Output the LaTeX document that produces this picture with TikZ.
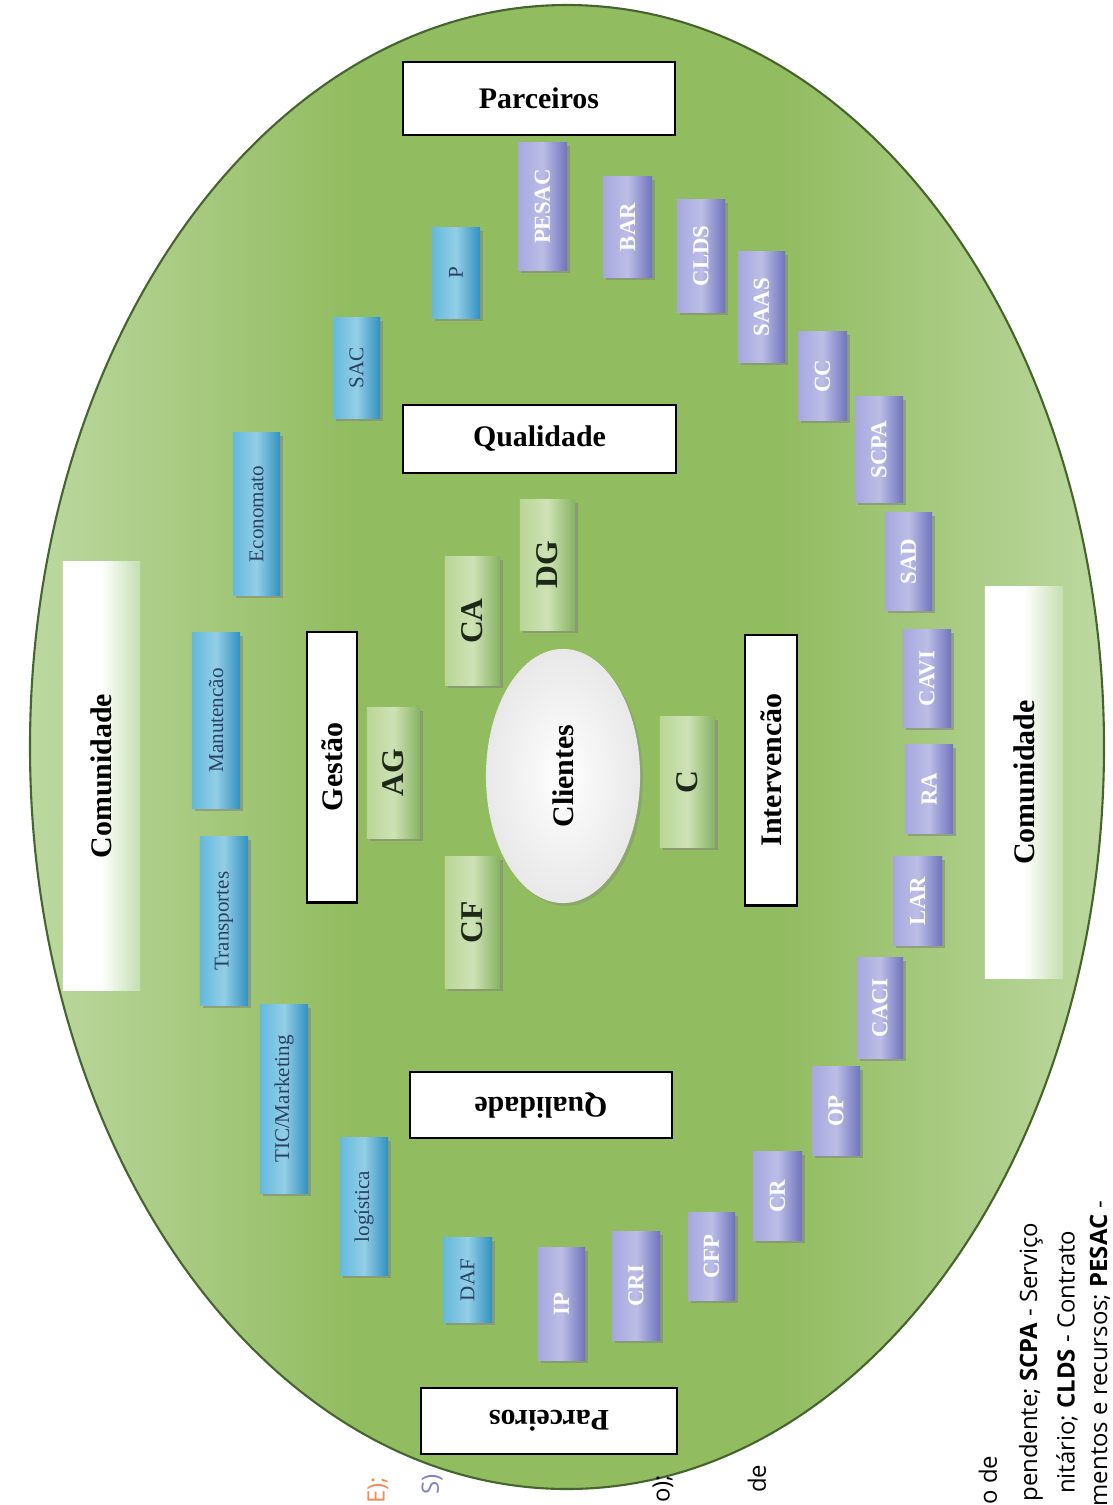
\documentclass[tikz,border=0pt]{standalone}
\usepackage{fontspec}
\setmainfont{Liberation Serif}
\newfontfamily\legendfont{Open Sans}
\usetikzlibrary{shadows,shapes.geometric}

\definecolor{ovalmid}{RGB}{146,188,96}
\definecolor{ovaledge}{RGB}{188,216,160}
\definecolor{ovalline}{RGB}{70,100,45}
\definecolor{bluemid}{RGB}{100,185,220}
\definecolor{blueside}{RGB}{50,145,190}
\definecolor{bluetext}{RGB}{40,65,100}
\definecolor{purplemid}{RGB}{165,168,222}
\definecolor{purpleside}{RGB}{112,116,188}
\definecolor{greenmid}{RGB}{185,214,150}
\definecolor{greenside}{RGB}{135,178,98}
\definecolor{greentext}{RGB}{30,40,25}
\definecolor{commside}{RGB}{196,222,176}
\definecolor{legorange}{RGB}{240,140,90}
\definecolor{legpurple}{RGB}{130,130,200}

\pgfdeclarehorizontalshading{ovalshade}{100bp}{color(0bp)=(ovaledge); color(25bp)=(ovaledge); color(40bp)=(ovalmid); color(60bp)=(ovalmid); color(75bp)=(ovaledge); color(100bp)=(ovaledge)}

\tikzset{
  unit/.style={rotate=90, inner sep=0pt, drop shadow={shadow xshift=0.8pt, shadow yshift=-0.8pt, opacity=0.55}},
  bluebox/.style={unit, left color=bluemid, right color=blueside, middle color=bluemid!70!white,
    text=bluetext, font=\fontsize{6}{7}\selectfont},
  purplebox/.style={unit, left color=purplemid, right color=purpleside, middle color=purplemid!75!white,
    text=white, font=\bfseries\fontsize{6.5}{7}\selectfont},
  greenbox/.style={unit, left color=greenmid, right color=greenside, middle color=greenmid!70!white,
    text=greentext, font=\bfseries\fontsize{9}{10}\selectfont},
  labelbox/.style={draw=black, line width=0.8pt, fill=white, inner sep=0pt,
    font=\bfseries\fontsize{8.5}{10}\selectfont},
  commbox/.style={rotate=90, inner sep=0pt, left color=white, right color=commside, middle color=white,
    font=\bfseries\fontsize{8.5}{10}\selectfont},
  legend/.style={rotate=90, anchor=east, inner sep=0pt, font=\legendfont\fontsize{6.8}{8}\selectfont}
}

\begin{document}
\begin{tikzpicture}[x=0.01cm, y=-0.01cm]
  \useasboundingbox (0,0) rectangle (1113,1505);
  \clip (0,0) rectangle (1113,1505);

  % Ellipse
  \shade[shading=ovalshade, draw=ovalline, line width=0.6pt] (567,747) ellipse [x radius=537, y radius=742];

  % Parceiros / Qualidade
  \node[labelbox, minimum width=2.72cm, minimum height=0.73cm] (parc1) at (539,98.5) {Parceiros};
  \node[labelbox, minimum width=2.73cm, minimum height=0.68cm] (qual1) at (539.5,439) {Qualidade};
  \node[labelbox, rotate=180, minimum width=2.62cm, minimum height=0.66cm] (qual2) at (541,1105) {Qualidade};
  \node[labelbox, rotate=180, minimum width=2.56cm, minimum height=0.66cm] (parc2) at (549,1421) {Parceiros};

  % Gestao / Intervencao / Comunidade
  \node[labelbox, rotate=90, minimum width=2.70cm, minimum height=0.50cm] (gest) at (332,767) {Gestão};
  \node[labelbox, rotate=90, minimum width=2.70cm, minimum height=0.52cm] (interv) at (771,770) {Intervencão};
  \node[commbox, minimum width=4.28cm, minimum height=0.77cm] (comm1) at (101.5,776) {Comunidade};
  \node[commbox, minimum width=3.91cm, minimum height=0.78cm] (comm2) at (1024,782.5) {Comunidade};

  % Clientes
  \node[ellipse, rotate=90, inner sep=0pt, inner color=white, outer color=black!9,
    drop shadow={shadow xshift=0.8pt, shadow yshift=-0.8pt, opacity=0.35},
    minimum width=2.54cm, minimum height=1.54cm, font=\bfseries\fontsize{8.5}{10}\selectfont] (cli) at (563,776) {Clientes};

  % Orgaos
  \node[greenbox, minimum width=1.28cm, minimum height=0.55cm] (ca) at (472.5,621) {CA};
  \node[greenbox, minimum width=1.30cm, minimum height=0.55cm] (dg) at (547.5,565) {DG};
  \node[greenbox, minimum width=1.30cm, minimum height=0.53cm] (ag) at (393.5,773) {AG};
  \node[greenbox, minimum width=1.31cm, minimum height=0.55cm] (cf) at (472.5,922.5) {CF};
  \node[greenbox, minimum width=1.30cm, minimum height=0.55cm] (c) at (687.5,782) {C};

  % Servicos
  \node[bluebox, minimum width=1.00cm, minimum height=0.47cm] (sac) at (356.5,368) {SAC};
  \node[bluebox, minimum width=0.90cm, minimum height=0.48cm] (p) at (456,273) {P};
  \node[bluebox, minimum width=1.62cm, minimum height=0.47cm] (eco) at (256.5,514) {Economato};
  \node[bluebox, minimum width=1.75cm, minimum height=0.48cm] (manut) at (216,720.5) {Manutencão};
  \node[bluebox, minimum width=1.68cm, minimum height=0.48cm] (transp) at (224,921) {Transportes};
  \node[bluebox, minimum width=1.88cm, minimum height=0.48cm] (tic) at (284,1099) {TIC/Marketing};
  \node[bluebox, minimum width=1.37cm, minimum height=0.48cm] (log) at (364,1206.5) {logística};
  \node[bluebox, minimum width=0.84cm, minimum height=0.49cm] (daf) at (467.5,1280) {DAF};

  % Respostas
  \node[purplebox, minimum width=1.27cm, minimum height=0.49cm] (pesac) at (542.5,206.5) {PESAC};
  \node[purplebox, minimum width=1.00cm, minimum height=0.49cm] (bar) at (627.5,227) {BAR};
  \node[purplebox, minimum width=1.12cm, minimum height=0.48cm] (clds) at (701,256) {CLDS};
  \node[purplebox, minimum width=1.10cm, minimum height=0.47cm] (saas) at (761.5,307) {SAAS};
  \node[purplebox, minimum width=0.88cm, minimum height=0.49cm] (cc) at (822.5,376) {CC};
  \node[purplebox, minimum width=1.05cm, minimum height=0.48cm] (scpa) at (879,449.5) {SCPA};
  \node[purplebox, minimum width=0.97cm, minimum height=0.47cm] (sad) at (908.5,561.5) {SAD};
  \node[purplebox, minimum width=0.97cm, minimum height=0.48cm] (cavi) at (927,678.5) {CAVI};
  \node[purplebox, minimum width=0.88cm, minimum height=0.48cm] (ra) at (929,789) {RA};
  \node[purplebox, minimum width=0.88cm, minimum height=0.49cm] (lar) at (917.5,901) {LAR};
  \node[purplebox, minimum width=1.00cm, minimum height=0.46cm] (caci) at (880,1008) {CACI};
  \node[purplebox, minimum width=0.88cm, minimum height=0.48cm] (op) at (836,1111) {OP};
  \node[purplebox, minimum width=0.88cm, minimum height=0.49cm] (cr) at (777.5,1196) {CR};
  \node[purplebox, minimum width=0.87cm, minimum height=0.47cm] (cfp) at (711.5,1256.5) {CFP};
  \node[purplebox, minimum width=1.08cm, minimum height=0.48cm] (cri) at (636,1286) {CRI};
  \node[purplebox, minimum width=1.12cm, minimum height=0.47cm] (ip) at (561.5,1304) {IP};

  % Legenda (abgeschnitten)
  \node[legend, text=legorange] (leg1) at (378,1476) {E);};
  \node[legend, text=legpurple] (leg2) at (432,1474) {S)};
  \node[legend] (leg3) at (663,1474) {o);};
  \node[legend] (leg4) at (757,1464) {de};
  \node[legend] (leg5) at (988,1455) {o de};
  \node[legend] (leg6) at (1031,1222) {pendente; \textbf{SCPA} - Serviço};
  \node[legend] (leg7) at (1067,1230) {nitário; \textbf{CLDS} - Contrato};
  \node[legend] (leg8) at (1100,1200) {mentos e recursos; \textbf{PESAC} -};
\end{tikzpicture}
\end{document}
